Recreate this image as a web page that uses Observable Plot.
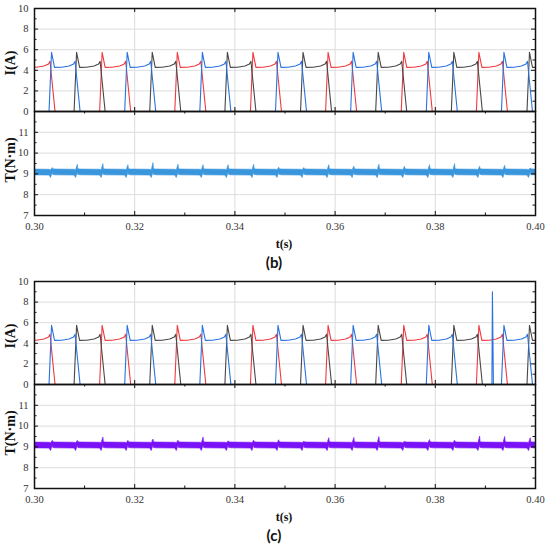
<!DOCTYPE html>
<html><head><meta charset="utf-8">
<script src="https://cdn.jsdelivr.net/npm/d3@7"></script>
<script src="https://cdn.jsdelivr.net/npm/@observablehq/plot@0.6"></script>
<style>
body{margin:0;background:#fff;width:550px;height:544px;overflow:hidden;font-family:"Liberation Serif",serif}
.panel{position:relative;width:550px;height:273px}
.panel svg{position:absolute;left:0;background:transparent !important;overflow:visible !important}
.panel svg text{font-family:"Liberation Serif",serif !important;font-size:10.5px;fill:#333}
.lab{position:absolute;transform:translate(-50%,-50%);white-space:nowrap;color:#111}
.ylab{position:absolute;transform:translate(-50%,-50%) rotate(-90deg);white-space:nowrap;font-weight:bold;font-size:14px;color:#111}
</style></head><body><div id="root"></div>
<script>
// ---- data ----
// commutation instants (time of each current peak), s
const commutationTimes = [0.2984, 0.3034, 0.3084, 0.3135, 0.3185, 0.3235, 0.3285, 0.3335, 0.3385, 0.3436, 0.3486,
  0.3536, 0.3586, 0.3636, 0.3686, 0.3737, 0.3787, 0.3837, 0.3887, 0.3937, 0.3988, 0.4038];
// phase switched on at each commutation (A red, B blue, C black)
const commutationPhase = ["A","B","C","A","B","C","A","B","C","A","B","C","A","B","C","A","B","C","A","B","C","A"];
// phase-current pulse shape: time offset from its peak (s) and current (A)
const pulseOffsets = [-0.0005, 0, 0.0006, 0.002, 0.0035, 0.0044, 0.0047, 0.0057];
const pulseCurrents = [0, 5.75, 4.28, 4.3, 4.42, 4.62, 4.88, 0];
// extra current spike of phase B in panel (c)
const spikeTimesC = [0.3913, 0.3914, 0.3916];
const spikeCurrentsC = [0, 9.0, 0];
// torque ripple envelope around each commutation: offset (s), lower / upper edge (N·m)
const torqueOffsets = [-0.0004, -0.0001, 0.00025, 0.00035, 0.0008];
const torqueLo = [8.92, 8.8, 9.05, 8.95, 8.93];
const torqueHi = [9.2, 9.18, null, 9.22, 9.21];
// torque spike peaks at each commutation (N·m)
const torquePeaksB = [9.3, 9.28, 9.44, 9.47, 9.42, 9.52, 9.44, 9.42, 9.42, 9.44, 9.3, 9.28, 9.42, 9.35, 9.44, 9.34, 9.42, 9.47, 9.34, 9.39, 9.26, 9.3];
const torquePeaksC = [9.3, 9.29, 9.29, 9.45, 9.29, 9.35, 9.3, 9.45, 9.27, 9.3, 9.32, 9.25, 9.42, 9.43, 9.47, 9.25, 9.33, 9.3, 9.5, 9.48, 9.42, 9.3];
// axes
const xDomain = [0.30, 0.40];
const xTicks = [0.30, 0.32, 0.34, 0.36, 0.38, 0.40];
const xMinor = [0.31, 0.33, 0.35, 0.37, 0.39];
const xGrid = [0.32, 0.34, 0.36, 0.38];
const iDomain = [0, 10];
const iTicks = [0, 2, 4, 6, 8, 10];
const iMinor = [1, 3, 5, 7, 9];
const iGrid = [2, 4, 6, 8];
const tDomain = [7, 12];
const tTicks = [7, 8, 9, 10, 11];
const tMinor = [7.5, 8.5, 9.5, 10.5, 11.5];
const tGrid = [8, 9, 10, 11];
const phaseColors = {A: "#ee3a3f", B: "#2a72e0", C: "#474747"};

// ---- build ----
const W = 550, ML = 34, MR = 15;
const xPerPx = (xDomain[1] - xDomain[0]) / (W - ML - MR);

function buildCurrents(extraT, extraI, extraPhase) {
  const rows = [];
  commutationTimes.forEach((c, k) => pulseOffsets.forEach((dt, j) =>
    rows.push({phase: commutationPhase[k], t: c + dt, i: pulseCurrents[j]})));
  if (extraT) extraT.forEach((t, j) => rows.push({phase: extraPhase, t, i: extraI[j]}));
  return rows.sort((a, b) => a.t - b.t);
}
function buildTorque(peaks) {
  const rows = [];
  commutationTimes.forEach((c, k) => torqueOffsets.forEach((dt, j) =>
    rows.push({t: c + dt, lo: torqueLo[j], hi: torqueHi[j] == null ? peaks[k] : torqueHi[j]})));
  return rows.sort((a, b) => a.t - b.t);
}

function frameTicks(yDom, plotH, yMajor, yMinor, xMinorTop, xMinorBottom) {
  const yPerPx = (yDom[1] - yDom[0]) / plotH;
  const lx = 4 * xPerPx, sx = 2.5 * xPerPx, ly = 4 * yPerPx, sy = 2.5 * yPerPx;
  const st = {stroke: "#111", strokeWidth: 1};
  const m = [
    Plot.ruleY(yMajor, {y: d => d, x1: xDomain[0], x2: xDomain[0] + lx, ...st}),
    Plot.ruleY(yMajor, {y: d => d, x1: xDomain[1] - lx, x2: xDomain[1], ...st}),
    Plot.ruleY(yMinor, {y: d => d, x1: xDomain[0], x2: xDomain[0] + sx, ...st}),
    Plot.ruleY(yMinor, {y: d => d, x1: xDomain[1] - sx, x2: xDomain[1], ...st}),
    Plot.ruleX(xTicks, {x: d => d, y1: yDom[1], y2: yDom[1] - ly, ...st}),
    Plot.ruleX(xTicks, {x: d => d, y1: yDom[0], y2: yDom[0] + ly, ...st})
  ];
  if (xMinorTop) m.push(Plot.ruleX(xMinor, {x: d => d, y1: yDom[1], y2: yDom[1] - sy, ...st}));
  if (xMinorBottom) m.push(Plot.ruleX(xMinor, {x: d => d, y1: yDom[0], y2: yDom[0] + sy, ...st}));
  return m;
}

const baseStyle = "background:transparent;overflow:visible;font-family:'Liberation Serif',serif;font-size:10.5px;color:#333";

function currentPlot(rows) {
  const svg = Plot.plot({
    width: W, height: 114, marginTop: 8, marginBottom: 3, marginLeft: ML, marginRight: MR,
    style: baseStyle,
    x: {domain: xDomain, axis: null},
    y: {domain: iDomain, ticks: iTicks, tickSize: 0, tickPadding: 6, label: null, tickFormat: d3.format("d")},
    marks: [
      Plot.ruleX(xGrid, {x: d => d, stroke: "#dcdcdc", strokeWidth: 1}),
      Plot.ruleY(iGrid, {y: d => d, stroke: "#dcdcdc", strokeWidth: 1}),
      ...["A", "C", "B"].map(p => Plot.line(rows.filter(d => d.phase === p),
        {x: "t", y: "i", stroke: phaseColors[p], strokeWidth: 1.1, clip: true})),
      ...frameTicks(iDomain, 103, iTicks, iMinor, false, false),
      Plot.frame({stroke: "#111", strokeWidth: 1.5})
    ]
  });
  svg.style.top = "0px";
  return svg;
}

function torquePlot(rows, color) {
  const svg = Plot.plot({
    width: W, height: 150, marginTop: 3, marginBottom: 43, marginLeft: ML, marginRight: MR,
    style: baseStyle,
    x: {domain: xDomain, ticks: xTicks, tickSize: 0, tickPadding: 7, label: null, tickFormat: d3.format(".2f")},
    y: {domain: tDomain, ticks: tTicks, tickSize: 0, tickPadding: 6, label: null, tickFormat: d3.format("d")},
    marks: [
      Plot.ruleX(xGrid, {x: d => d, stroke: "#dcdcdc", strokeWidth: 1}),
      Plot.ruleY(tGrid, {y: d => d, stroke: "#dcdcdc", strokeWidth: 1}),
      Plot.areaY(rows, {x: "t", y1: "lo", y2: "hi", fill: color, stroke: color, strokeWidth: 0.6, clip: true}),
      ...frameTicks(tDomain, 104, tTicks, tMinor, true, true),
      Plot.frame({stroke: "#111", strokeWidth: 1.5})
    ]
  });
  svg.style.top = "108px";
  return svg;
}

function panel(letter, currents, torque, color) {
  const div = document.createElement("div");
  div.className = "panel";
  div.appendChild(currentPlot(currents));
  div.appendChild(torquePlot(torque, color));
  const add = (cls, text, x, y, css) => {
    const e = document.createElement("div");
    e.className = cls; e.textContent = text;
    e.style.left = x + "px"; e.style.top = y + "px";
    Object.assign(e.style, css || {});
    div.appendChild(e);
  };
  add("ylab", "I(A)", 11, 63);
  add("ylab", "T(N·m)", 11, 160);
  add("lab", "t(s)", 284, 244, {fontWeight: "bold", fontSize: "12px"});
  add("lab", "(" + letter + ")", 274, 262, {fontWeight: "bold", fontSize: "15px", fontFamily: "Lato, sans-serif"});
  return div;
}

const root = document.getElementById("root");
root.appendChild(panel("b", buildCurrents(), buildTorque(torquePeaksB), "#3a96dc"));
root.appendChild(panel("c", buildCurrents(spikeTimesC, spikeCurrentsC, "B"), buildTorque(torquePeaksC), "#7a12f7"));
</script></body></html>
